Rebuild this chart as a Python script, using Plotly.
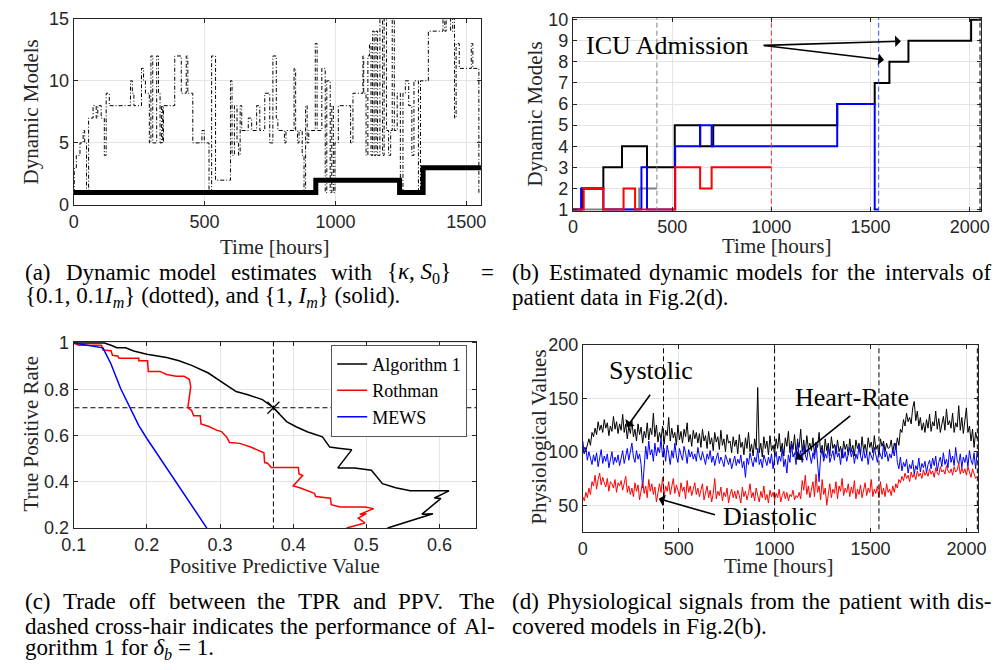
import plotly.graph_objects as go

# ---------------- (a) dynamic model estimates ----------------
a_dot_t = [0, 2, 10, 24, 36, 42, 49, 57, 74, 86, 92, 105, 117, 124, 136, 217, 224, 230, 259, 267,
           274, 289, 295, 302, 317, 324, 330, 336, 340, 343, 386, 411, 430, 436, 455, 490, 499, 517, 527, 542,
           599, 605, 614, 624, 630, 636, 642, 667, 680, 699, 711, 730, 749, 761, 774, 780, 805, 811, 842, 848,
           855, 861, 873, 880, 886, 892, 898, 923, 930, 948, 961, 967, 980, 986, 992, 998, 1011, 1058, 1067, 1105,
           1108, 1117, 1124, 1130, 1136, 1142, 1148, 1155, 1161, 1170, 1180, 1186, 1195, 1203, 1211, 1217, 1225, 1236, 1248, 1258,
           1267, 1280, 1292, 1300, 1311, 1317, 1325, 1336, 1355, 1411, 1418, 1423, 1440, 1448, 1455, 1461, 1473, 1519, 1525, 1548,
           1556]
a_dot_v = [1, 3, 4, 5, 6, 5, 1, 7, 8, 7, 8, 7, 4, 9, 8, 10, 9, 8, 11, 10,
           9, 5, 12, 5, 12, 9, 5, 8, 5, 8, 12, 9, 12, 9, 5, 6, 5, 1, 12, 2,
           10, 4, 8, 5, 4, 8, 6, 7, 6, 8, 6, 9, 5, 12, 7, 6, 5, 6, 11, 6,
           5, 6, 4, 1, 8, 5, 6, 13, 6, 11, 1, 10, 1, 8, 1, 5, 8, 5, 9, 12,
           9, 4, 12, 13, 4, 14, 4, 14, 4, 15, 4, 15, 6, 4, 6, 15, 6, 9, 1, 9,
           10, 8, 4, 10, 10, 1, 10, 10, 14, 15, 14, 15, 14, 15, 7, 13, 11, 13, 11, 1,
           1]
a_sol_t = [0, 925, 1245, 1335, 1556]
a_sol_v = [1, 2, 1, 3, 3]

# ---------------- (b) estimated dynamic models ----------------
b_black_t = [0, 45, 153, 247, 373, 513, 641, 707, 1332, 1521, 1595, 1691, 2007, 2058]
b_black_v = [1, 2, 3, 4, 3, 5, 4, 5, 6, 7, 8, 9, 10, 10]
b_gray_t = [0, 334, 423]
b_gray_v = [1, 2, 2]
b_blue_t = [0, 41, 153, 345, 373, 515, 641, 699, 1332, 1521, 1541]
b_blue_v = [1, 2, 1, 3, 1, 4, 5, 4, 6, 1, 1]
b_red_t = [0, 54, 153, 255, 313, 515, 641, 699, 1000]
b_red_v = [1, 2, 1, 2, 1, 3, 2, 3, 3]
b_vlines_t = [423, 1000, 1541, 2052]
b_vlines_c = ["#808080", "#ff3030", "#3050ff", "#000000"]

# ---------------- (c) TPR vs PPV ----------------
c_alg_ppv = [0.1, 0.142, 0.151, 0.159, 0.171, 0.182, 0.2, 0.227, 0.244, 0.262, 0.284, 0.302, 0.322, 0.338,
             0.358, 0.373, 0.391, 0.404, 0.42, 0.44, 0.45, 0.462, 0.48, 0.461, 0.484, 0.507, 0.522, 0.54,
             0.56, 0.613, 0.593, 0.602, 0.576, 0.591, 0.529]
c_alg_tpr = [1.0, 1.0, 0.99, 0.979, 0.979, 0.965, 0.951, 0.937, 0.923, 0.902, 0.87, 0.832, 0.79, 0.776,
             0.755, 0.72, 0.66, 0.638, 0.615, 0.594, 0.55, 0.545, 0.538, 0.46, 0.46, 0.45, 0.392, 0.374,
             0.361, 0.361, 0.33, 0.328, 0.26, 0.262, 0.2]
c_rot_ppv = [0.1, 0.107, 0.107, 0.138, 0.14, 0.151, 0.153, 0.16, 0.162, 0.189, 0.189, 0.201, 0.202, 0.218,
             0.227, 0.24, 0.251, 0.258, 0.26, 0.256, 0.261, 0.264, 0.273, 0.274, 0.284, 0.296, 0.302, 0.309,
             0.313, 0.327, 0.342, 0.36, 0.361, 0.365, 0.37, 0.407, 0.408, 0.413, 0.4, 0.409, 0.422, 0.429,
             0.431, 0.451, 0.452, 0.464, 0.498, 0.51, 0.491, 0.5, 0.489, 0.498, 0.473]
c_rot_tpr = [1.0, 0.993, 0.99, 0.99, 0.969, 0.966, 0.947, 0.944, 0.934, 0.934, 0.923, 0.923, 0.877, 0.877,
             0.864, 0.856, 0.856, 0.843, 0.811, 0.72, 0.709, 0.685, 0.685, 0.65, 0.64, 0.622, 0.617, 0.594,
             0.57, 0.566, 0.55, 0.525, 0.483, 0.48, 0.462, 0.462, 0.434, 0.427, 0.382, 0.374, 0.357, 0.35,
             0.336, 0.329, 0.301, 0.291, 0.291, 0.284, 0.259, 0.262, 0.243, 0.222, 0.2]
c_mews_ppv = [0.1, 0.14, 0.151, 0.164, 0.189, 0.2, 0.282]
c_mews_tpr = [1.0, 0.979, 0.909, 0.804, 0.643, 0.587, 0.2]
c_cross_ppv = 0.373
c_cross_tpr = 0.72

# ---------------- (d) physiological signals (8 h sampling) ----------------
d_step = 8
d_systolic = [98, 104, 101, 108, 112, 106, 118, 114, 122, 116, 128, 120, 125, 118, 130, 122, 127, 115, 124, 119, 133, 121, 128, 117, 126,
              120, 135, 118, 126, 112, 124, 117, 129, 114, 121, 110, 126, 116, 123, 108, 119, 113, 127, 111, 122, 116, 136, 114, 125, 109,
              118, 112, 124, 107, 120, 115, 132, 110, 122, 113, 118, 106, 125, 111, 119, 108, 121, 114, 127, 109, 116, 105, 120, 112, 118,
              108, 117, 104, 121, 110, 115, 103, 119, 107, 113, 101, 118, 109, 114, 102, 120, 106, 112, 100, 116, 108, 110, 99, 114, 105,
              111, 98, 116, 104, 109, 97, 113, 103, 118, 100, 107, 96, 112, 102, 160, 99, 108, 95, 114, 103, 110, 97, 115, 101, 106,
              98, 112, 103, 117, 100, 108, 96, 113, 105, 119, 99, 110, 102, 116, 97, 109, 104, 121, 100, 111, 98, 115, 103, 108, 101,
              113, 97, 109, 104, 118, 99, 106, 95, 112, 101, 108, 96, 114, 103, 107, 98, 111, 100, 105, 94, 110, 102, 107, 97, 112,
              100, 106, 96, 111, 103, 108, 97, 114, 101, 107, 98, 113, 104, 109, 99, 115, 102, 106, 97, 112, 105, 110, 100, 108, 103,
              104, 111, 99, 108, 102, 113, 106, 121, 118, 130, 124, 136, 128, 132, 126, 141, 147, 129, 138, 124, 132, 120, 127, 118, 130,
              122, 135, 119, 128, 124, 138, 121, 131, 118, 126, 133, 120, 140, 125, 129, 122, 136, 118, 127, 123, 143, 120, 132, 117, 128,
              141, 118, 124, 110, 121, 104, 118, 112]
d_heart = [110, 98, 104, 92, 100, 95, 88, 97, 91, 99, 86, 94, 102, 89, 96, 91, 98, 85, 93, 100, 88, 95, 90, 97, 87,
           94, 101, 89, 97, 103, 92, 99, 108, 95, 90, 101, 93, 98, 88, 66, 84, 105, 93, 110, 97, 102, 91, 108, 96, 104,
           99, 112, 95, 103, 91, 106, 98, 88, 101, 94, 108, 96, 90, 103, 97, 92, 105, 99, 89, 102, 95, 100, 93, 98, 91,
           104, 96, 92, 100, 95, 88, 98, 93, 101, 90, 96, 87, 94, 99, 89, 95, 91, 86, 97, 92, 88, 94, 84, 90, 96,
           87, 93, 89, 97, 85, 91, 76, 94, 88, 99, 92, 86, 95, 90, 103, 88, 93, 85, 97, 91, 87, 95, 89, 98, 84,
           94, 100, 88, 96, 91, 103, 86, 93, 80, 97, 90, 107, 95, 99, 88, 112, 94, 101, 90, 106, 97, 92, 104, 96, 89,
           99, 93, 108, 88, 72, 96, 102, 91, 98, 94, 105, 90, 97, 101, 92, 106, 95, 99, 88, 103, 94, 100, 91, 97, 104,
           95, 101, 89, 98, 93, 106, 96, 91, 103, 94, 99, 88, 100, 95, 92, 104, 97, 90, 101, 96, 93, 107, 95, 100, 91,
           98, 94, 102, 96, 108, 90, 84, 95, 82, 90, 86, 93, 80, 88, 84, 92, 79, 87, 83, 94, 81, 89, 85, 91, 80,
           88, 92, 84, 94, 87, 96, 82, 90, 95, 86, 99, 88, 93, 85, 102, 90, 96, 87, 104, 92, 88, 98, 85, 95, 90,
           97, 86, 101, 92, 88, 99, 84, 100]
d_diastolic = [58, 54, 62, 57, 66, 60, 72, 68, 78, 65, 74, 80, 69, 76, 71, 67, 75, 63, 72, 70, 66, 74, 62, 71, 68,
               73, 64, 70, 77, 62, 68, 60, 66, 58, 71, 63, 69, 55, 65, 72, 61, 68, 57, 74, 63, 70, 60, 67, 53, 64,
               70, 62, 76, 58, 68, 63, 72, 60, 66, 75, 61, 69, 64, 58, 71, 63, 67, 56, 73, 62, 68, 59, 65, 71, 60,
               66, 58, 63, 70, 55, 62, 68, 57, 64, 53, 61, 75, 56, 63, 59, 67, 54, 62, 58, 66, 52, 60, 65, 57, 63,
               56, 64, 59, 52, 67, 58, 63, 55, 61, 70, 57, 62, 54, 66, 59, 53, 63, 57, 68, 55, 60, 52, 64, 58, 62,
               55, 61, 57, 65, 53, 59, 63, 56, 62, 54, 60, 58, 64, 55, 59, 57, 62, 56, 73, 64, 78, 60, 68, 57, 66,
               72, 58, 79, 62, 68, 55, 74, 60, 66, 50, 63, 70, 57, 65, 61, 72, 56, 68, 63, 75, 59, 66, 62, 70, 58,
               67, 61, 73, 56, 65, 60, 69, 57, 64, 71, 59, 66, 62, 74, 58, 65, 61, 68, 57, 72, 60, 66, 58, 70, 62,
               65, 59, 68, 62, 70, 66, 74, 71, 77, 73, 80, 75, 78, 72, 81, 76, 79, 74, 82, 77, 80, 75, 83, 78, 81,
               77, 84, 79, 82, 76, 85, 80, 78, 86, 81, 83, 79, 87, 82, 80, 84, 78, 86, 81, 83, 89, 79, 85, 80, 84,
               78, 86, 80, 76, 84, 79, 75, 77]
d_vlines_t = [421, 1000, 1544, 2057]

# ---------------- figure ----------------
W, H = 1000, 670
def px(x): return x / W
def py(y): return 1 - y / H

TICK = dict(family="Liberation Sans, Arial, sans-serif", size=18, color="#262626")
SERIF = "Liberation Serif, Times New Roman, serif"
AX = dict(showline=True, linecolor="#262626", linewidth=1, mirror="ticks", ticks="inside",
          ticklen=4, tickcolor="#262626", showgrid=True, gridcolor="#e4e4e4", gridwidth=1,
          zeroline=False, tickfont=TICK)

fig = go.Figure()

# (a)
fig.add_trace(go.Scatter(x=a_dot_t, y=a_dot_v, mode="lines", line=dict(color="black", width=1, dash="4px,2px,1px,2px", shape="hv"),
                         xaxis="x", yaxis="y", showlegend=False))
fig.add_trace(go.Scatter(x=a_sol_t, y=a_sol_v, mode="lines", line=dict(color="black", width=5, shape="hv"),
                         xaxis="x", yaxis="y", showlegend=False))

# (b)
for tt, vv, col in [(b_black_t, b_black_v, "black"), (b_gray_t, b_gray_v, "#808080"),
                    (b_blue_t, b_blue_v, "#0000ff"), (b_red_t, b_red_v, "#ff0000")]:
    fig.add_trace(go.Scatter(x=tt, y=vv, mode="lines", line=dict(color=col, width=2, shape="hv"),
                             xaxis="x2", yaxis="y2", showlegend=False))
for tt, col in zip(b_vlines_t, b_vlines_c):
    fig.add_trace(go.Scatter(x=[tt, tt], y=[0.9, 10.2], mode="lines", line=dict(color=col, width=1, dash="5px,3px"),
                             xaxis="x2", yaxis="y2", showlegend=False))

# (c)
fig.add_trace(go.Scatter(x=[c_cross_ppv, c_cross_ppv], y=[0.19, 1.01], mode="lines",
                         line=dict(color="black", width=1, dash="5px,3px"), xaxis="x3", yaxis="y3", showlegend=False))
fig.add_trace(go.Scatter(x=[0.09, 0.66], y=[c_cross_tpr, c_cross_tpr], mode="lines",
                         line=dict(color="black", width=1, dash="5px,3px"), xaxis="x3", yaxis="y3", showlegend=False))
fig.add_trace(go.Scatter(x=c_alg_ppv, y=c_alg_tpr, mode="lines", name="Algorithm 1",
                         line=dict(color="black", width=1.5), xaxis="x3", yaxis="y3"))
fig.add_trace(go.Scatter(x=c_rot_ppv, y=c_rot_tpr, mode="lines", name="Rothman",
                         line=dict(color="#ff0000", width=1.5), xaxis="x3", yaxis="y3"))
fig.add_trace(go.Scatter(x=c_mews_ppv, y=c_mews_tpr, mode="lines", name="MEWS",
                         line=dict(color="#0000ff", width=1.5), xaxis="x3", yaxis="y3"))
fig.add_trace(go.Scatter(x=[c_cross_ppv], y=[c_cross_tpr], mode="markers",
                         marker=dict(symbol="x-thin", size=12, line=dict(color="black", width=1.2)),
                         xaxis="x3", yaxis="y3", showlegend=False))

# (d)
for series, col in [(d_systolic, "black"), (d_heart, "#0000ff"), (d_diastolic, "#ff0000")]:
    tt = [i * d_step for i in range(len(series))]
    fig.add_trace(go.Scatter(x=tt, y=series, mode="lines", line=dict(color=col, width=1),
                             xaxis="x4", yaxis="y4", showlegend=False))
for tt in d_vlines_t:
    fig.add_trace(go.Scatter(x=[tt, tt], y=[20, 205], mode="lines", line=dict(color="black", width=1, dash="5px,3px"),
                             xaxis="x4", yaxis="y4", showlegend=False))

layout = dict(
    width=W, height=H, margin=dict(l=0, r=0, t=0, b=0), paper_bgcolor="white", plot_bgcolor="white",
    xaxis=dict(AX, domain=[px(62), px(478)], range=[0, 1556], dtick=500, anchor="y"),
    yaxis=dict(AX, domain=[py(201), py(9)], range=[0, 15], dtick=5, anchor="x"),
    xaxis2=dict(AX, domain=[px(572), px(989)], range=[0, 2058], tickvals=[0, 500, 1000, 1500, 2000], anchor="y2"),
    yaxis2=dict(AX, domain=[py(207), py(8)], range=[0.94, 10.09], tickvals=list(range(1, 11)), anchor="x2"),
    xaxis3=dict(AX, domain=[px(62), px(473)], range=[0.1, 0.65], tickvals=[0.1, 0.2, 0.3, 0.4, 0.5, 0.6], anchor="y3"),
    yaxis3=dict(AX, domain=[py(534), py(342)], range=[0.2, 1.005], tickvals=[0.2, 0.4, 0.6, 0.8, 1],
                ticktext=["0.2", "0.4", "0.6", "0.8", "1"], anchor="x3"),
    xaxis4=dict(AX, domain=[px(582), px(986)], range=[0, 2062], tickvals=[0, 500, 1000, 1500, 2000], anchor="y4"),
    yaxis4=dict(AX, domain=[py(538), py(345)], range=[25, 200], tickvals=[50, 100, 150, 200], anchor="x4"),
    showlegend=True,
    legend=dict(x=px(325), y=py(345), xanchor="left", yanchor="top", bgcolor="white",
                bordercolor="#555555", borderwidth=1, font=dict(family=SERIF, size=18, color="black"),
                itemwidth=30, tracegroupgap=0),
)
fig.update_layout(**layout)

ann = []
def txt(x, y, s, size=21, angle=0, xa="center", ya="middle", color="#262626"):
    ann.append(dict(x=px(x), y=py(y), xref="paper", yref="paper", text=s, showarrow=False, textangle=angle,
                    xanchor=xa, yanchor=ya, font=dict(family=SERIF, size=size, color=color)))

# axis titles
txt(18, 105, "Dynamic Models", angle=-90)
txt(267, 244, "Time [hours]")
txt(533, 107, "Dynamic Models", angle=-90)
txt(780, 243, "Time [hours]")
txt(18, 437, "True Positive Rate", angle=-90)
txt(267, 573, "Positive Predictive Value")
txt(537, 440, "Physiological Values", angle=-90)
txt(782, 573, "Time [hours]")

# captions: Times metrics (per 1000 em) used to justify full lines word by word
CS = 23
TW = {" ": 250, "(": 333, ")": 333, ".": 250, ",": 250, "-": 333, "{": 480, "}": 480, "=": 564,
      "a": 444, "b": 500, "c": 444, "d": 500, "e": 444, "f": 333, "g": 500, "h": 500, "i": 278, "j": 278,
      "k": 500, "l": 278, "m": 778, "n": 500, "o": 500, "p": 500, "q": 500, "r": 333, "s": 389, "t": 278,
      "u": 500, "v": 500, "w": 722, "x": 500, "y": 500, "z": 444,
      "A": 722, "P": 556, "R": 667, "T": 611, "V": 722, "E": 611, "F": 556}
def wwidth(w):
    return sum(TW.get(ch, 500) for ch in w) / 1000 * CS

def cap(x, y, s, xa="left"):
    txt(x, y, s, CS, xa=xa, color="black")

def justify(x0, x1, y, words):
    # words: list of (html_text, plain_text_for_width)
    widths = [wwidth(p) for _, p in words]
    gap = (x1 - x0 - sum(widths)) / (len(words) - 1)
    x = x0
    for (h, _), w in zip(words, widths):
        cap(x, y, h)
        x += w + gap

def plain(line):
    return [(w, w) for w in line.split(" ")]

justify(10, 489, 271, plain("(a) Dynamic model estimates with") +
        [("{<i>κ</i>, <i>S</i><sub>0</sub>}", "{k, S0}  "), ("=", "=")])
cap(10, 296, "{0.1, 0.1<i>I<sub>m</sub></i>} (dotted), and {1, <i>I<sub>m</sub></i>} (solid).")
justify(508, 997, 271, plain("(b) Estimated dynamic models for the intervals of"))
cap(508, 296, "patient data in Fig.2(d).")
justify(10, 489, 610, plain("(c) Trade off between the TPR and PPV. The"))
justify(10, 489, 635, plain("dashed cross-hair indicates the performance of Al-"))
cap(10, 659, "gorithm 1 for <i>δ<sub>b</sub></i> = 1.")
justify(508, 997, 610, plain("(d) Physiological signals from the patient with dis-"))
cap(508, 635, "covered models in Fig.2(b).")

# in-plot labels and arrows
def data_txt(x, y, s, xr, yr, size=26):
    ann.append(dict(x=x, y=y, xref=xr, yref=yr, text=s, showarrow=False,
                    font=dict(family=SERIF, size=size, color="black")))
def arrow(x, y, ax_, ay_, xr, yr):
    ann.append(dict(x=x, y=y, ax=ax_, ay=ay_, xref=xr, yref=yr, axref=xr, ayref=yr, text="",
                    showarrow=True, arrowhead=1, arrowsize=1.2, arrowwidth=1.6, arrowcolor="black"))

data_txt(478, 8.76, "ICU Admission", "x2", "y2")
arrow(1653, 8.98, 954, 8.78, "x2", "y2")
arrow(1568, 8.09, 954, 8.78, "x2", "y2")

data_txt(358, 175.6, "Systolic", "x4", "y4")
arrow(229, 123, 357, 154.7, "x4", "y4")
data_txt(1404, 150.2, "Heart-Rate", "x4", "y4")
arrow(1113, 92.8, 1402, 134.5, "x4", "y4")
data_txt(976, 39, "Diastolic", "x4", "y4")
arrow(396, 56, 697, 40.6, "x4", "y4")

fig.update_layout(annotations=ann)

fig.write_html("out.html", config={"displayModeBar": False},
               post_script="document.body.style.margin='0';document.body.style.overflow='hidden';")
